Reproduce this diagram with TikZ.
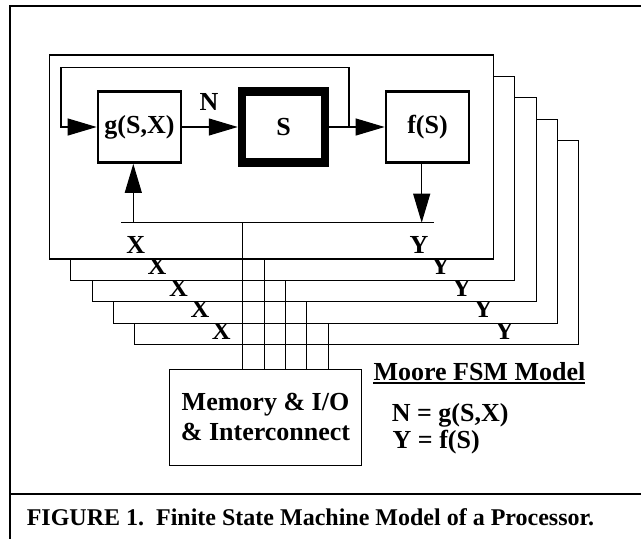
\documentclass[tikz,border=0pt]{standalone}
\usepackage{fontspec}
\setmainfont{Liberation Serif}
\usetikzlibrary{arrows.meta,calc}

\begin{document}
\begin{tikzpicture}[x=1pt,y=-1pt,
  wire/.style={line width=1.1pt},
  cpuframe/.style={draw, line width=1.1pt, fill=white, inner sep=0pt,
    minimum width=444pt, minimum height=204pt},
  blockbox/.style={draw, line width=2.7pt, fill=white, inner sep=0pt,
    minimum width=83pt, minimum height=71pt,
    font=\fontsize{26}{30}\selectfont\bfseries},
  statebox/.style={blockbox, line width=8.5pt},
  lbl/.style={inner sep=0pt, font=\fontsize{26}{30}\selectfont\bfseries},
  arr/.style={line width=1.1pt, -{Triangle[length=29pt,width=17pt]}},
]
\useasboundingbox (0,0) rectangle (641,539);

% outer figure frame and caption rule
\draw[line width=2pt] (10,545) -- (10,6) -- (645,6);
\draw[line width=2pt] (10,494) -- (645,494);

% shared memory block
\node[draw, wire, inner sep=0pt, minimum width=191.5pt, minimum height=96.5pt,
  align=center, font=\fontsize{26}{30}\selectfont\bfseries]
  (mem) at (265.5,417.3) {Memory \& I/O\\\& Interconnect};

% stacked processor frames, drawn back to front
\foreach \k in {4,3,2,1,0}{
  \begin{scope}[shift={(21.4*\k,21.4*\k)}]
    \node[cpuframe] (fr\k) at (271.3,157) {};
    \coordinate (drop\k) at (242.7,222.7);
    \node[lbl] (x\k) at (135.7,245) {X};
    \node[lbl] (y\k) at (419,245) {Y};
    % link to memory
    \draw[wire] (drop\k) -- (drop\k |- mem.north);
  \end{scope}
}

% contents of the front processor
\node[blockbox] (g) at (139.5,127) {g(S,X)};
\node[statebox] (s) at (283.5,127) {S};
\node[blockbox] (f) at (427.5,127) {f(S)};
\coordinate (j) at (349,127);
\coordinate (xin) at (133.3,222.7);
\coordinate (yout) at (421.7,222.7);
\coordinate (busl) at (121,222.7);
\coordinate (busr) at (434,222.7);
% next-state and output paths
\draw[arr] (g) -- (s);
\node[lbl] (n) at (209,102) {N};
\draw[arr] (s) -- (f);
\draw[arr] (j) -- (349,67.5) -| (61,127) -- (g);
% input / output bus
\draw[wire] (busl) -- (busr);
\draw[arr] (xin) -- (xin |- g.south);
\draw[arr] (yout |- f.south) -- (yout);

% model equations
\node[lbl, anchor=base west] (moore) at (373.3,380) {Moore FSM Model};
\draw[line width=1.3pt] ($(moore.base west)+(0,3)$) -- ($(moore.base east)+(0,3)$);
\node[lbl, anchor=base west] (eqn) at (391.7,421.7) {N = g(S,X)};
\node[lbl, anchor=base west] (eqy) at (392.5,448.3) {Y = f(S)};

% caption
\node[anchor=base west, inner sep=0pt, font=\fontsize{24}{28}\selectfont\bfseries]
  (cap) at (26.6,525) {FIGURE 1.\ \ Finite State Machine Model of a Processor.};
\end{tikzpicture}
\end{document}
